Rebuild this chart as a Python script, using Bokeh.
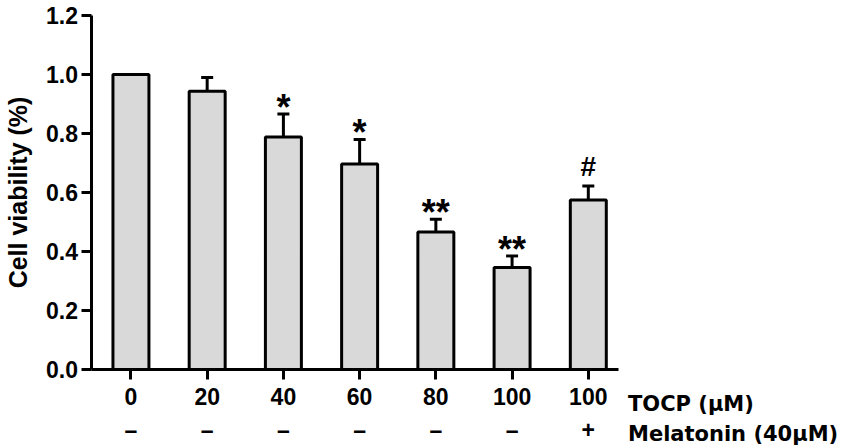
import math
from bokeh.plotting import figure
from bokeh.models import (Range1d, FixedTicker, ColumnDataSource, Whisker, TeeHead,
                          LabelSet, PrintfTickFormatter)
from bokeh.core.properties import value
from bokeh.embed import file_html
from bokeh.resources import INLINE

# ---- data ----
tocp_doses = ["0", "20", "40", "60", "80", "100", "100"]
melatonin_signs = ["–", "–", "–", "–", "–", "–", "+"]
viability = [1.00, 0.943, 0.788, 0.697, 0.466, 0.346, 0.575]
sd = [0.0, 0.047, 0.078, 0.083, 0.043, 0.039, 0.047]
marks = ["", "", "*", "*", "**", "**", "#"]
y_ticks = [0.0, 0.2, 0.4, 0.6, 0.8, 1.0, 1.2]
row_titles = ["TOCP (μM)", "Melatonin (40μM)"]
y_title = "Cell viability (%)"

FONT = "Liberation Sans"
pos = list(range(len(tocp_doses)))
upper = [v + s for v, s in zip(viability, sd)]
mark_off = [10 if m == "#" else -6 for m in marks]
mark_size = ["28px" if m == "#" else "36px" for m in marks]

src = ColumnDataSource(dict(x=pos, top=viability, upper=upper, mark=marks,
                            moff=mark_off, msize=mark_size))

# Axis extents (data units) and the pixel geometry of the plotting area
X0, X1 = -0.524, 6.40          # x-axis line runs from X0 to X1
W, H = 850, 445
AX_LEFT, AX_RIGHT, AX_TOP, AX_BOTTOM = 90.5, 618.3, 15.0, 369.0
px_x = (AX_RIGHT - AX_LEFT) / (X1 - X0)
px_y = (AX_BOTTOM - AX_TOP) / 1.2

p = figure(width=W, height=H, output_backend="svg", toolbar_location=None,
           x_range=Range1d(X0 - AX_LEFT / px_x, X0 + (W - AX_LEFT) / px_x),
           y_range=Range1d(-(H - AX_BOTTOM) / px_y, AX_BOTTOM / px_y),
           min_border_left=0, min_border_right=0, min_border_top=0,
           min_border_bottom=0)
p.title.visible = False
p.outline_line_color = None
p.xgrid.visible = False
p.ygrid.visible = False

p.vbar(x="x", top="top", bottom=0, width=0.472, source=src,
       fill_color="#d9d9d9", line_color="black", line_width=3)

p.add_layout(Whisker(source=src, base="x", upper="upper", lower="top",
                     line_width=3, line_color="black",
                     upper_head=TeeHead(size=12, line_width=3, line_color="black"),
                     lower_head=None))

p.add_layout(LabelSet(source=src, x="x", y="upper", text="mark", y_offset="moff",
                      text_align="center", text_baseline="alphabetic",
                      text_font=value(FONT), text_font_size="msize",
                      text_font_style="bold", text_color="black"))

for ax in (p.xaxis[0], p.yaxis[0]):
    ax.axis_line_width = 3
    ax.axis_line_color = "black"
    ax.major_tick_line_width = 3
    ax.major_tick_line_color = "black"
    ax.major_tick_out = 10
    ax.major_tick_in = 0
    ax.minor_tick_line_color = None
    ax.major_label_text_font = FONT
    ax.major_label_text_font_size = "23px"
    ax.major_label_text_font_style = "bold"
    ax.major_label_text_color = "black"

# x axis at y = 0: TOCP dose on the first line, melatonin sign on the second
p.xaxis.fixed_location = 0
p.xaxis.bounds = (X0, X1)
p.xaxis.ticker = FixedTicker(ticks=pos)
p.xaxis.major_label_overrides = {i: f"{d}\n{s}" for i, d, s in
                                 zip(pos, tocp_doses, melatonin_signs)}
p.xaxis.major_label_standoff = 4
p.xaxis.major_label_text_line_height = 1.30

# y axis at x = X0
p.yaxis.fixed_location = X0
p.yaxis.bounds = (0, 1.2)
p.yaxis.ticker = FixedTicker(ticks=y_ticks)
p.yaxis.formatter = PrintfTickFormatter(format="%.1f")
p.yaxis.major_label_standoff = 3

# y-axis title, rotated, centred on the axis
p.text(x=[X0 - (AX_LEFT - 17) / px_x], y=[0.6], text=[y_title],
       angle=math.pi / 2, text_align="center", text_baseline="middle",
       text_font=value(FONT), text_font_size="25px", text_font_style="bold",
       text_color="black")

# row titles to the right of the x axis, on the dose / sign baselines
p.text(x=[X1 + (627.5 - AX_RIGHT) / px_x] * 2,
       y=[-(403 - AX_BOTTOM) / px_y, -(433 - AX_BOTTOM) / px_y],
       text=row_titles, text_align="left", text_baseline="alphabetic",
       text_font=value("DejaVu Sans"), text_font_size="21px",
       text_font_style="bold", text_color="black")

open("out.html", "w").write(file_html(p, INLINE))
